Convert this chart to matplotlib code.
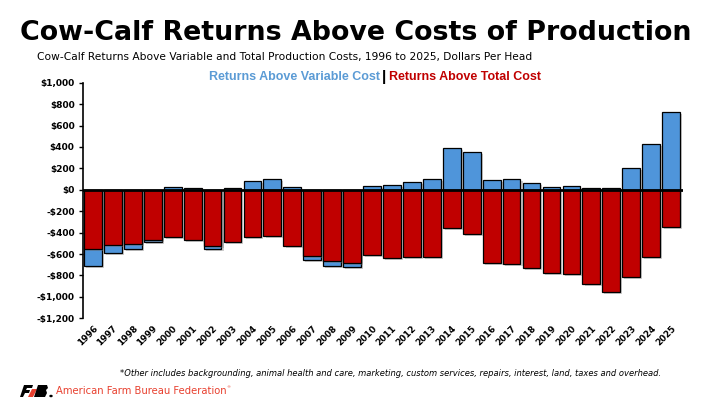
import matplotlib
matplotlib.use("Agg")
import matplotlib.pyplot as plt
import matplotlib.patheffects as pe
from matplotlib.patches import Polygon
import numpy as np

years = [str(y) for y in range(1996, 2026)]
variable_cost_returns = [-710, -590, -553, -487, 28, 19, -553, 19, 84, 103, 28, -655, -712, -721,
                         37, 47, 75, 103, 393, 356, 94, 103, 65, 28, 37, 19, 19, 206, 431, 730]
total_cost_returns = [-552, -512, -506, -468, -437, -468, -521, -490, -437, -428, -524, -618, -665, -681,
                      -606, -637, -627, -627, -356, -412, -684, -693, -730, -777, -787, -880, -955, -815, -627, -346]
y_ticks = list(range(-1200, 1001, 200))

BLUE = "#4F95DA"
RED = "#C00000"

fig = plt.figure(figsize=(7.2, 4.05), dpi=100)
W, H = 720, 405
ax = fig.add_axes([83 / W, 1 - 318.3 / H, (683 - 83) / W, (318.3 - 82.7) / H])

x = np.arange(len(years))
shadow = [pe.SimplePatchShadow(offset=(1.5, -1.5), shadow_rgbFace="#808080", alpha=0.4), pe.Normal()]
b1 = ax.bar(x, variable_cost_returns, width=0.89, color=BLUE, edgecolor="black", linewidth=0.9, zorder=2)
for p in b1:
    p.set_path_effects(shadow)
b2 = ax.bar(x, total_cost_returns, width=0.89, color=RED, edgecolor="black", linewidth=0.9, zorder=3)
for p in b2:
    p.set_path_effects(shadow)
ax.axhline(0, color="black", lw=2, zorder=4)

ax.set_xlim(-0.5, 29.6)
ax.set_ylim(-1200, 1000)
ax.set_yticks(y_ticks)
ax.set_yticklabels([f"${v:,}" if v >= 0 else f"-${abs(v):,}" for v in y_ticks],
                   fontsize=6.5, fontweight="bold")
ax.set_xticks(x)
ax.set_xticklabels(years, rotation=45, ha="right", rotation_mode="anchor", fontsize=6.3, fontweight="bold")
ax.tick_params(axis="x", length=0, pad=4)
ax.tick_params(axis="y", length=3, width=1, direction="out", pad=3)
for s in ["top", "right", "bottom"]:
    ax.spines[s].set_visible(False)
ax.spines["left"].set_linewidth(1.2)

# Titles
fig.text(355.5 / W, 1 - 33 / H, "Cow-Calf Returns Above Costs of Production", ha="center", va="center",
         fontsize=19.4, fontweight="bold", color="black")
fig.text(37 / W, 1 - 57 / H, "Cow-Calf Returns Above Variable and Total Production Costs, 1996 to 2025, Dollars Per Head",
         ha="left", va="center", fontsize=7.65, color="black")

# Legend text
lf = ["Liberation Sans Narrow", "Liberation Sans"]
fig.text(380 / W, 1 - 77 / H, "Returns Above Variable Cost", ha="right", va="center",
         fontsize=9, fontweight="bold", color="#5B9BD5", family=lf)
fig.text(384 / W, 1 - 77 / H, "|", ha="center", va="center", fontsize=11, fontweight="bold", color="black", family=lf)
fig.text(389 / W, 1 - 77 / H, "Returns Above Total Cost", ha="left", va="center",
         fontsize=9, fontweight="bold", color=RED, family=lf)

# Footnote
fig.text(120 / W, 1 - 373 / H,
         "*Other includes backgrounding, animal health and care, marketing, custom services, repairs, interest, land, taxes and overhead.",
         ha="left", va="center", fontsize=6.05, style="italic", color="black")

# Logo
def fpoly(pts, color):
    fig.patches.append(Polygon([(px / W, 1 - py / H) for px, py in pts], closed=True,
                               transform=fig.transFigure, facecolor=color, edgecolor="none"))

fpoly([(20, 397), (24, 385), (33, 385), (32, 388), (27, 388), (26, 390), (30, 390), (29, 393), (25, 393), (23, 397)], "black")
fpoly([(28, 397), (32, 389), (37, 389), (33, 397)], "#E8402F")
fpoly([(34, 397), (38, 385), (47, 385), (48, 388), (46, 390), (47, 393), (45, 397)], "black")
fig.patches.append(plt.Circle((51 / W, 1 - 396 / H), 1.0 / W, transform=fig.transFigure, color="black"))
fig.text(56 / W, 1 - 391 / H, "American Farm Bureau Federation", ha="left", va="center",
         fontsize=7.2, color="#E8402F")
fig.text(226 / W, 1 - 387 / H, "\u00ae", ha="left", va="center", fontsize=3, color="#E8402F")

fig.savefig("out.png", dpi=100)
